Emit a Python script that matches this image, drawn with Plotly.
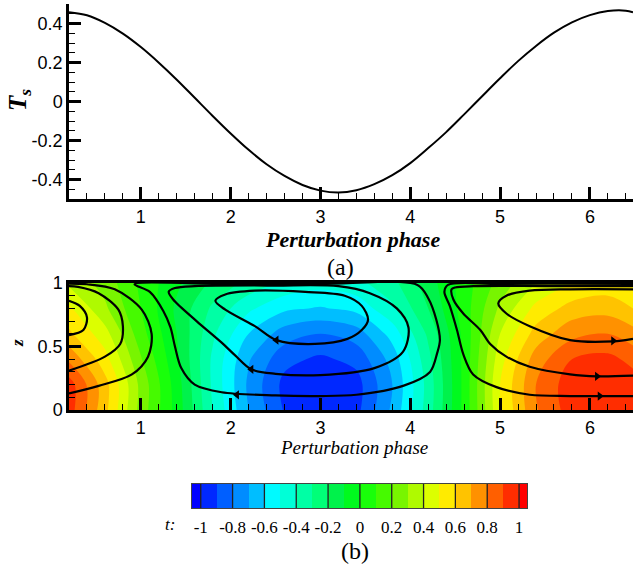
import plotly.graph_objects as go

W, H = 633, 571

# ---------------- data: panel (a) ----------------
phase_line = [0.2, 0.4, 0.6, 0.8, 1.0, 1.2, 1.4, 1.6, 1.8, 2.0, 2.2, 2.4, 2.6, 2.8, 3.0, 3.2,
              3.4, 3.6, 3.8, 4.0, 4.2, 4.4, 4.6, 4.8, 5.0, 5.2, 5.4, 5.6, 5.8, 6.0, 6.2, 6.4, 6.48]
ts_values = [0.458, 0.442, 0.403, 0.348, 0.279, 0.199, 0.112, 0.019, -0.074, -0.164, -0.248,
             -0.322, -0.382, -0.428, -0.457, -0.467, -0.455, -0.424, -0.378, -0.316, -0.239,
             -0.157, -0.066, 0.027, 0.119, 0.207, 0.285, 0.353, 0.406, 0.443, 0.464, 0.466, 0.458]
ts_ticks = [-0.4, -0.2, 0, 0.2, 0.4]
ts_ticktext = ["-0.4", "-0.2", "0", "0.2", "0.4"]
phase_ticks = [1, 2, 3, 4, 5, 6]

# ---------------- data: panel (b) ----------------
phase_grid = [0.2, 0.6, 1.0, 1.4, 1.8, 2.2, 2.6, 3.0, 3.4, 3.8, 4.2, 4.6, 5.0, 5.4, 5.8, 6.2, 6.48]
z_grid = [0.0, 0.2, 0.4, 0.6, 0.8, 1.0]
t_z00 = [0.95, 0.63, 0.26, -0.04, -0.40, -0.70, -0.91, -0.98, -0.93, -0.68, -0.35, 0.03, 0.49, 0.79, 0.95, 0.98, 0.95]
t_z02 = [0.95, 0.64, 0.27, -0.05, -0.42, -0.72, -0.93, -0.99, -0.94, -0.70, -0.36, 0.03, 0.50, 0.80, 0.96, 0.99, 0.95]
t_z04 = [0.78, 0.54, 0.21, -0.08, -0.42, -0.69, -0.87, -0.92, -0.87, -0.66, -0.33, 0.03, 0.46, 0.75, 0.90, 0.93, 0.87]
t_z06 = [0.62, 0.44, 0.14, -0.10, -0.38, -0.60, -0.75, -0.80, -0.75, -0.56, -0.28, 0.03, 0.40, 0.64, 0.77, 0.80, 0.74]
t_z08 = [0.52, 0.32, 0.10, -0.12, -0.32, -0.48, -0.58, -0.61, -0.57, -0.42, -0.20, 0.05, 0.32, 0.53, 0.64, 0.66, 0.60]
t_z10 = [0.38, 0.26, 0.08, -0.08, -0.22, -0.33, -0.42, -0.46, -0.43, -0.33, -0.15, 0.05, 0.24, 0.40, 0.50, 0.54, 0.53]
t_field = [t_z00, t_z02, t_z04, t_z06, t_z08, t_z10]

# streamlines (phase, z)
mid_inner_phi = [1.83, 1.94, 2.27, 2.83, 3.27, 3.46, 3.53, 3.46, 3.30, 2.94, 2.51, 2.27, 1.94, 1.83]
mid_inner_z = [0.86, 0.91, 0.94, 0.93, 0.90, 0.82, 0.71, 0.63, 0.56, 0.52, 0.55, 0.66, 0.79, 0.86]
mid_second_phi = [1.31, 1.38, 1.60, 2.50, 3.20, 3.55, 3.85, 3.98, 3.92, 3.60, 3.00, 2.50, 2.23, 2.05, 1.90, 1.62, 1.36, 1.31]
mid_second_z = [0.93, 0.96, 0.975, 0.98, 0.975, 0.92, 0.80, 0.65, 0.46, 0.33, 0.275, 0.285, 0.32, 0.43, 0.53, 0.70, 0.87, 0.93]
mid_outer_phi = [0.93, 1.10, 1.25, 1.33, 1.38, 1.45, 1.60, 1.90, 2.50, 3.00, 3.40, 3.92, 4.22, 4.30, 4.33,
                 4.29, 4.20, 4.08, 3.00, 2.00, 0.93]
mid_outer_z = [0.99, 0.93, 0.78, 0.65, 0.50, 0.33, 0.20, 0.14, 0.115, 0.11, 0.12, 0.19, 0.30, 0.45, 0.55,
               0.71, 0.88, 0.985, 0.992, 0.992, 0.99]

right_inner_phi = [6.48, 5.78, 5.33, 5.07, 4.98, 5.07, 5.33, 5.78, 6.26, 6.48]
right_inner_z = [0.95, 0.95, 0.94, 0.90, 0.84, 0.76, 0.66, 0.55, 0.54, 0.56]
right_second_phi = [6.48, 5.50, 4.70, 4.50, 4.46, 4.48, 4.59, 4.78, 4.89, 5.07, 5.33, 5.78, 6.08, 6.48]
right_second_z = [0.975, 0.976, 0.975, 0.965, 0.95, 0.87, 0.76, 0.63, 0.52, 0.42, 0.34, 0.28, 0.265, 0.27]
right_outer_phi = [6.48, 5.00, 4.42, 4.38, 4.44, 4.52, 4.59, 4.70, 4.96, 5.33, 5.78, 6.48]
right_outer_z = [0.993, 0.993, 0.985, 0.93, 0.82, 0.63, 0.44, 0.28, 0.18, 0.12, 0.11, 0.11]

left_inner_phi = [0.2, 0.32, 0.40, 0.36, 0.2]
left_inner_z = [0.86, 0.82, 0.73, 0.63, 0.59]
left_second_phi = [0.2, 0.60, 0.77, 0.80, 0.75, 0.53, 0.30, 0.2]
left_second_z = [0.31, 0.42, 0.52, 0.66, 0.79, 0.92, 0.97, 0.975]
left_outer_phi = [0.2, 0.53, 0.90, 1.08, 1.12, 1.01, 0.71, 0.40, 0.2]
left_outer_z = [0.13, 0.19, 0.28, 0.42, 0.60, 0.79, 0.95, 0.99, 0.995]

arrow_left_phi = [2.51, 2.23, 2.07]
arrow_left_z = [0.55, 0.32, 0.12]
arrow_right_phi = [6.26, 6.08, 6.11]
arrow_right_z = [0.545, 0.265, 0.11]

z_ticks = [0, 0.5, 1]
z_ticktext = ["0", "0.5", "1"]

# contour levels and flood colours (below -1, 20 bands, above 1)
levels = [-1.0, -0.9, -0.8, -0.7, -0.6, -0.5, -0.4, -0.3, -0.2, -0.1, 0.0,
          0.1, 0.2, 0.3, 0.4, 0.5, 0.6, 0.7, 0.8, 0.9, 1.0]
band_colors = ["rgb(0,0,255)", "rgb(0,40,255)", "rgb(0,95,255)", "rgb(0,140,255)", "rgb(0,190,255)",
               "rgb(0,250,255)", "rgb(0,255,215)", "rgb(0,255,165)", "rgb(0,255,120)", "rgb(0,242,75)",
               "rgb(0,250,30)", "rgb(25,255,10)", "rgb(70,250,0)", "rgb(120,245,0)", "rgb(175,250,0)",
               "rgb(220,255,0)", "rgb(255,235,0)", "rgb(255,195,0)", "rgb(255,145,0)", "rgb(255,95,0)",
               "rgb(255,45,0)", "rgb(255,0,0)"]
cbar_ticks = [-1, -0.8, -0.6, -0.4, -0.2, 0, 0.2, 0.4, 0.6, 0.8, 1]
cbar_ticktext = ["-1", "-0.8", "-0.6", "-0.4", "-0.2", "0", "0.2", "0.4", "0.6", "0.8", "1"]

# ---------------- build ----------------
step = 0.1
n = len(band_colors)
zlo, zhi = levels[0] - step / 2, levels[-1] + step / 2
colorscale = [[i / (n - 1), c] for i, c in enumerate(band_colors)]
band_values = [round(zlo + step * i, 4) for i in range(n)]
cbar_edges = [-1.055] + levels + [1.05]

SANS = "Liberation Sans"
SERIF = "Liberation Serif"


def px_x(p):
    return p / W


def px_y(p):
    return 1 - p / H


fig = go.Figure()

fig.add_trace(go.Scatter(x=phase_line, y=ts_values, mode="lines", xaxis="x", yaxis="y",
                         line=dict(color="black", width=2, shape="spline"), showlegend=False))

fig.add_trace(go.Contour(x=phase_grid, y=z_grid, z=t_field, xaxis="x2", yaxis="y2",
                         autocontour=False,
                         contours=dict(start=levels[0], end=levels[-1], size=step,
                                       coloring="fill", showlines=False),
                         line=dict(width=0, smoothing=1.0),
                         colorscale=colorscale, zmin=zlo, zmax=zhi, showscale=False))

streams = [(mid_inner_phi, mid_inner_z), (mid_second_phi, mid_second_z), (mid_outer_phi, mid_outer_z),
           (right_inner_phi, right_inner_z), (right_second_phi, right_second_z),
           (right_outer_phi, right_outer_z), (left_inner_phi, left_inner_z),
           (left_second_phi, left_second_z), (left_outer_phi, left_outer_z)]
for sx, sz in streams:
    fig.add_trace(go.Scatter(x=sx, y=sz, mode="lines", xaxis="x2", yaxis="y2",
                             line=dict(color="black", width=2.2, shape="spline", smoothing=0.9),
                             showlegend=False, hoverinfo="skip"))

fig.add_trace(go.Scatter(x=arrow_left_phi, y=arrow_left_z, mode="markers", xaxis="x2", yaxis="y2",
                         marker=dict(symbol="triangle-left", size=8, color="black"), showlegend=False))
fig.add_trace(go.Scatter(x=arrow_right_phi, y=arrow_right_z, mode="markers", xaxis="x2", yaxis="y2",
                         marker=dict(symbol="triangle-right", size=8, color="black"), showlegend=False))

# colour legend bar
fig.add_trace(go.Heatmap(x=cbar_edges, y=[0, 1], z=[band_values], xaxis="x3", yaxis="y3",
                         colorscale=colorscale, zmin=zlo, zmax=zhi, showscale=False, hoverinfo="skip"))
div_x, div_y = [], []
for t in cbar_ticks:
    div_x += [t, t, None]
    div_y += [0, 1, None]
fig.add_trace(go.Scatter(x=div_x, y=div_y, mode="lines", xaxis="x3", yaxis="y3",
                         line=dict(color="#222222", width=1.3), showlegend=False, hoverinfo="skip"))

axis_common = dict(showgrid=False, zeroline=False, showline=True, linecolor="black", linewidth=2.5,
                   ticks="inside", tickcolor="black", ticklen=12, tickwidth=3, automargin=False,
                   tickfont=dict(family=SANS, size=18, color="black"))

fig.update_layout(
    template="none",
    width=W, height=H, margin=dict(l=0, r=0, t=0, b=0, pad=0), autosize=False,
    paper_bgcolor="white", plot_bgcolor="white", showlegend=False,
    font=dict(family=SANS, color="black"),
    xaxis=dict(domain=[px_x(69), 1.0], range=[0.2, 6.48], anchor="y", tickvals=phase_ticks,
               minor=dict(ticks="inside", ticklen=6, tickwidth=1.2, tickcolor="black", dtick=0.2, tick0=0),
               **axis_common),
    yaxis=dict(domain=[px_y(199), px_y(4)], range=[-0.5, 0.5], anchor="x", tickvals=ts_ticks,
               ticktext=ts_ticktext,
               minor=dict(ticks="inside", ticklen=6, tickwidth=1.2, tickcolor="black", dtick=0.05, tick0=0),
               **axis_common),
    xaxis2=dict(domain=[px_x(69), 1.0], range=[0.2, 6.48], anchor="y2", tickvals=phase_ticks, mirror=True,
                minor=dict(ticks="inside", ticklen=6, tickwidth=1.2, tickcolor="black", dtick=0.2, tick0=0),
                **axis_common),
    yaxis2=dict(domain=[px_y(410), px_y(283)], range=[0, 1], anchor="x2", tickvals=z_ticks,
                ticktext=z_ticktext,
                minor=dict(ticks="inside", ticklen=6, tickwidth=1.2, tickcolor="black", dtick=0.1, tick0=0),
                **axis_common),
    xaxis3=dict(domain=[px_x(192), px_x(527)], range=[cbar_edges[0], cbar_edges[-1]], anchor="y3",
                tickvals=cbar_ticks, ticktext=cbar_ticktext, ticks="", showgrid=False, zeroline=False,
                showline=True, mirror=True, linecolor="#444444", linewidth=1, automargin=False,
                tickfont=dict(family=SERIF, size=17, color="black"), ticklabelstandoff=4),
    yaxis3=dict(domain=[px_y(508), px_y(484)], range=[0, 1], anchor="x3", showticklabels=False,
                ticks="", showgrid=False, zeroline=False, showline=True, mirror=True, automargin=False,
                linecolor="#444444", linewidth=1),
)

ann = [
    dict(x=px_x(353), y=px_y(239), text="<b><i>Perturbation phase</i></b>",
         font=dict(family=SERIF, size=22, color="black")),
    dict(x=px_x(340), y=px_y(267), text="(a)", font=dict(family=SERIF, size=24, color="black")),
    dict(x=px_x(19), y=px_y(100), text="<b><i>T</i></b><sub><b><i>s</i></b></sub>", textangle=-90,
         font=dict(family=SERIF, size=25, color="black")),
    dict(x=px_x(354), y=px_y(447), text="<i>Perturbation phase</i>",
         font=dict(family=SERIF, size=19, color="black")),
    dict(x=px_x(17), y=px_y(343), text="<b><i>z</i></b>", textangle=-90,
         font=dict(family=SERIF, size=17, color="black")),
    dict(x=px_x(170), y=px_y(524), text="<i>t:</i>", font=dict(family=SERIF, size=17, color="black")),
    dict(x=px_x(355), y=px_y(551), text="(b)", font=dict(family=SERIF, size=24, color="black")),
]
for a in ann:
    a.update(xref="paper", yref="paper", showarrow=False, xanchor="center", yanchor="middle")
fig.update_layout(annotations=ann)

fig.write_html("out.html", config={"displayModeBar": False},
               post_script="document.body.style.margin='0';document.body.style.padding='0';"
                           "document.body.style.overflow='hidden';")
